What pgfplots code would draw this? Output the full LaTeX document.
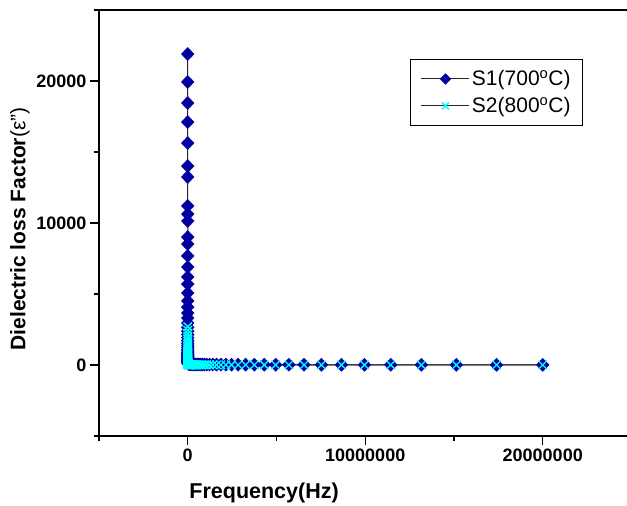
\documentclass[border=0pt]{standalone}
\usepackage{fontspec}
\setmainfont{Liberation Sans}
\usepackage{pgfplots}
\pgfplotsset{compat=1.18}
\usepackage{pgfplotstable}
\definecolor{navyb}{RGB}{0,0,160}
\definecolor{cyanx}{RGB}{0,255,255}
\pgfplotstableread{
f y
20 21900
22.99 19930
26.44 18450
30.40 17110
34.95 15630
40.19 14010
46.21 13240
53.13 11200
61.08 10630
70.23 10140
80.75 9010
92.84 8520
106.7 7680
122.7 6900
141.1 6200
162.3 5700
186.6 5070
214.5 4510
246.6 4080
283.6 3660
326.0 3310
374.9 2960
431.0 2650
495.5 2380
569.7 2140
655.0 1920
753.1 1720
865.9 1540
995.4 1380
1144 1240
1316 1110
1513 1000
1740 900
2000 810
2299 730
2644 660
3040 595
3495 535
4019 480
4621 432
5313 390
6108 352
7023 318
8075 288
9284 260
10670 235
12270 213
14110 193
16230 175
18660 160
21450 146
24660 134
28360 124
32600 115
37490 107
43100 100
49550 94
56970 88
65500 83
75310 78
86590 74
99540 70
114400 66
131600 63
151300 60
174000 57
200000 54
229900 51
264400 48
304000 46
349500 44
401900 42
462100 40
531300 38
610800 36
702300 35
807500 33
928400 32
1067000 30
1227000 29
1411000 28
1623000 27
1866000 26
2145000 25
2466000 24
2836000 23
3260000 22
3749000 21
4310000 20
4955000 19
5697000 18
6550000 17
7531000 16
8659000 15
9954000 14
11440000 13
13160000 12
15130000 11
17400000 10
20000000 9
}\sone
\pgfplotstableread{
f y
20 2700
22.99 2450
26.44 2220
30.40 2010
34.95 1820
40.19 1650
46.21 1490
53.13 1350
61.08 1220
70.23 1100
80.75 1000
92.84 905
106.7 820
122.7 742
141.1 672
162.3 608
186.6 550
214.5 498
246.6 451
283.6 408
326.0 370
374.9 335
431.0 303
495.5 275
569.7 249
655.0 226
753.1 205
865.9 186
995.4 169
1144 153
1316 139
1513 127
1740 116
2000 106
2299 97
2644 89
3040 82
3495 75
4019 69
4621 64
5313 59
6108 55
7023 51
8075 47
9284 44
10670 41
12270 38
14110 36
16230 34
18660 32
21450 30
24660 29
28360 28
32600 27
37490 26
43100 25
49550 24
56970 23
65500 22
75310 21
86590 20
99540 19
114400 18
131600 17
151300 16
174000 16
200000 15
229900 15
264400 14
304000 14
349500 13
401900 13
462100 12
531300 12
610800 11
702300 11
807500 10
928400 10
1067000 10
1227000 9
1411000 9
1623000 9
1866000 8
2145000 8
2466000 8
2836000 7
3260000 7
3749000 7
4310000 7
4955000 6
5697000 6
6550000 6
7531000 6
8659000 5
9954000 5
11440000 5
13160000 5
15130000 5
17400000 5
20000000 5
}\stwo
\begin{document}
\begin{tikzpicture}
\path[use as bounding box] (-99pt,-70pt) rectangle (528pt,436pt);
\begin{axis}[
  at={(0,0)}, anchor=south west,
  scale only axis, width=532.5pt, height=426pt,
  xmin=-5e6, xmax=25e6, ymin=-5000, ymax=25000,
  xtick={0,1e7,2e7}, ytick={0,10000,20000},
  minor xtick={-5e6,5e6,15e6,25e6}, minor ytick={-5000,5000,15000,25000},
  tick align=outside, xtick pos=bottom, ytick pos=left,
  major tick length=9pt, minor tick length=5pt,
  axis line style={line width=1.3pt},
  every tick/.style={line width=1.2pt, black},
  scaled ticks=false,
  /pgf/number format/1000 sep={},
  /pgf/number format/fixed,
  /pgf/number format/assume math mode=true,
  ticklabel style={font=\fontsize{18}{20}\selectfont\bfseries},
  xlabel={Frequency(Hz)},
  ylabel={\textbf{Dielectric loss Factor}(ε")},
  xlabel style={font=\fontsize{21.5}{24}\selectfont\bfseries, at={(rel axis cs:0.31,0)}, anchor=center, yshift=-57pt},
  ylabel style={font=\fontsize{21}{24}\selectfont, at={(rel axis cs:0,0.5)}, anchor=center, yshift=79pt, xshift=-6pt},
  legend style={at={(0.909,0.885)}, anchor=north east, draw=black, line width=1pt,
    font=\fontsize{21}{24}\selectfont, row sep=6pt, inner xsep=10pt, inner ysep=9pt},
  legend cell align=left,
  legend image code/.code={\draw[mark repeat=2,mark phase=2,#1,every mark/.append style={scale=0.82}] plot coordinates {(0pt,0pt)(24pt,0pt)(48pt,0pt)};},
]
\addplot[black!85, line width=1pt, mark=diamond*, mark size=6.5pt, mark options={fill=navyb, draw=navyb, line width=0.5pt, xscale=1.3}] table[x=f,y=y]{\sone};
\addlegendentry{S1(700\textsuperscript{o}C)}
\addplot[black!85, line width=1pt, mark=x, mark size=6pt, mark options={draw=cyanx, line width=1.3pt}] table[x=f,y=y]{\stwo};
\addlegendentry{S2(800\textsuperscript{o}C)}
\end{axis}
\end{tikzpicture}
\end{document}
